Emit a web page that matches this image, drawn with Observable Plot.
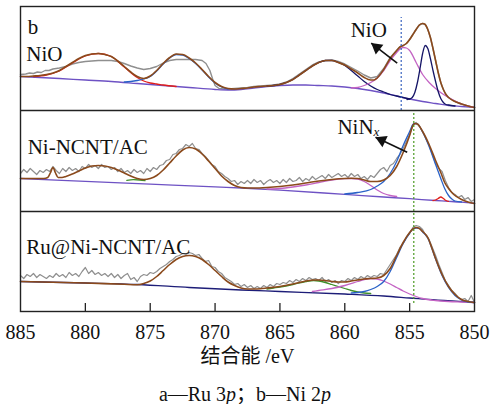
<!DOCTYPE html>
<html>
<head>
<meta charset="utf-8">
<script src="https://cdn.jsdelivr.net/npm/d3@7"></script>
<script src="https://cdn.jsdelivr.net/npm/@observablehq/plot@0.6"></script>
<style>
  body { margin: 0; background: #fff; }
  #chart { width: 490px; }
  .caption {
    width: 490px; text-align: center;
    font-family: "Liberation Serif", "Noto Sans CJK SC", serif;
    font-size: 20px; line-height: 20px; margin-top: 6px; color: #111;
  }
</style>
</head>
<body>
<div id="chart"></div>
<div class="caption">a—Ru 3<i>p</i>；b—Ni 2<i>p</i></div>
<script>
// Ni 2p XPS spectra, binding energy (eV) vs intensity (a.u.), three stacked samples.
const tickValues = [885, 880, 875, 870, 865, 860, 855, 850];
const sampleNames = ["NiO", "Ni-NCNT/AC", "Ru@Ni-NCNT/AC"];

// ---- NiO ----
const nioRaw = [[885,36],[884.6,36.5],[884.3,37.5],[884,37],[883.7,38.5],[883.4,38],[883.1,40],[882.8,40],[882.5,41.5],[882,42.5],[881.5,44],[881,46.5],[880.5,48],[880,49],[879.5,49.5],[879,50],[878.5,50],[878,50],[877.5,49],[877,47],[876.5,44.5],[876,42.5],[875.5,41],[875,42],[874.5,44],[874,47.5],[873.5,50],[873,51],[872.5,51],[872,51],[871.5,51],[871,50],[870.7,47],[870.4,40],[870.2,32],[870,25],[869.7,22],[869.3,21.5],[869,21.5],[868.5,22],[868,22.5],[867.5,23],[867,24],[866.5,24.5],[866,25],[865.5,25.5],[865,26.5],[864.5,28.5],[864,32],[863.5,36.5],[863,41],[862.5,45.5],[862,48.5],[861.5,50],[861,50.5],[860.5,49],[860,46.5],[859.5,43],[859,39.5],[858.5,35.5],[858,32.5],[857.5,34],[857,42],[856.5,53],[856,60],[855.75,63.5],[855.5,65],[855.25,67],[855,71],[854.75,76],[854.5,81],[854.25,85.5],[854,87],[853.8,86],[853.6,81],[853.4,73],[853.2,62],[853,50],[852.8,38],[852.6,28],[852.4,21],[852.2,16],[852,13],[851.5,9],[851,6.5],[850.5,4.5],[850,3]];
const nioFit = [[885,34],[884.5,34],[884,34.5],[883.5,35],[883,36],[882.5,37.5],[882,40],[881.5,44],[881,48],[880.5,52],[880,55],[879.5,56.5],[879,57],[878.5,56],[878,54],[877.5,49.5],[877,44],[876.5,38.5],[876,34],[875.5,32],[875,34.5],[874.5,40],[874,47],[873.5,53],[873,56.5],[872.5,56],[872,52.5],[871.5,47.5],[871,41],[870.5,34],[870,28],[869.5,24],[869,22],[868.5,21.5],[868,22],[867.5,22.5],[867,23.5],[866.5,24],[866,24.5],[865.5,25],[865,26],[864.5,28],[864,31],[863.5,35.5],[863,40],[862.5,44.5],[862,48],[861.5,50],[861,50],[860.5,48],[860,45.5],[859.5,41.5],[859,37.5],[858.5,33],[858,30.5],[857.75,30.5],[857.5,32.5],[857,41],[856.5,52],[856,60],[855.75,63.5],[855.5,65],[855.25,67],[855,71],[854.75,76],[854.5,81],[854.25,85.5],[854,87],[853.8,86],[853.6,81],[853.4,73],[853.2,62],[853,50],[852.8,38],[852.6,28],[852.4,21],[852.2,16],[852,13],[851.5,9],[851,6.5],[850.5,4.5],[850,3]];
const nioBackground = [[885,34],[882,32],[880,30.5],[878,29],[876,27],[874,25],[872,23],[870,21],[869,20.5],[868,21],[867,22.5],[866,24],[865,25],[864,25.5],[863,25.5],[862,25],[861,24.5],[860,23.5],[859,22],[858,20],[857,17.5],[856,14.5],[855,11.5],[854,9],[853,7],[852,5],[851,4],[850,3]];
const nioSat1 = [[884,34],[883,35.5],[882,39.5],[881,47.5],[880,54.5],[879,57],[878,54],[877,43.5],[876,33],[875.5,29.5],[875,27.5],[874.5,26.5],[874,25.5],[873,24]];
const nioMain1 = [[877,28.5],[876.5,29],[876,30],[875.5,31.5],[875,34],[874.5,39.5],[874,46.5],[873.5,52.5],[873,56],[872.5,55.5],[872,52],[871.5,47],[871,40.5],[870.5,33.5],[870,27.5],[869.5,23.5],[869,21.5]];
const nioSat3 = [[866,24.5],[865,26],[864,31],[863.5,35.5],[863,40],[862.5,44.5],[862,48],[861.5,50],[861,50],[860.5,48],[860,45],[859.5,40],[859,34.5],[858.5,29],[858,24.5],[857.5,21],[857,18.5],[856.5,16],[856,14.5],[855.5,13],[855,11.5]];
const nioMain3b = [[859.5,22.5],[859,23],[858.5,25],[858,28],[857.5,32.5],[857,40],[856.5,50],[856,58],[855.75,61.5],[855.5,63],[855.25,62.5],[855,60],[854.5,48],[854,36],[853.5,28],[853,22],[852.5,17],[852,13],[851.5,9.5],[851,6.5],[850.5,4.5],[850,3]];
const nioMain3a = [[855.2,11],[855,11.5],[854.8,13],[854.6,18],[854.4,28],[854.2,42],[854,57],[853.8,65],[853.6,62],[853.4,52],[853.2,40],[853,29],[852.8,19],[852.6,12],[852.4,8],[852.2,6],[852,5.5],[851.5,4.5]];

// ---- Ni-NCNT/AC ----
const ncntRaw = [[885,38],[884.75,42],[884.5,39],[884.25,43],[884,40],[883.75,37],[883.5,41],[883.25,39],[883,42],[882.75,40],[882.5,45],[882.25,41],[882,38],[881.75,43],[881.5,40],[881.25,44],[881,41],[880.75,43],[880.5,40],[880.25,45],[880,43],[879.75,47],[879.5,44],[879.25,46],[879,43],[878.75,47],[878.5,44],[878.25,45],[878,42],[877.75,44],[877.5,40],[877.25,43],[877,39],[876.75,41],[876.5,38],[876.25,42],[876,39],[875.75,41],[875.5,38],[875.25,43],[875,40],[874.75,44],[874.5,42],[874.25,46],[874,47],[873.75,51],[873.5,52],[873.25,57],[873,58],[872.75,62],[872.5,63],[872.25,67],[872,65],[871.75,68],[871.5,63],[871.25,62],[871,58],[870.75,55],[870.5,51],[870.25,47],[870,45],[869.75,40],[869.5,38],[869.25,35],[869,33],[868.75,30],[868.5,31],[868.25,27],[868,30],[867.75,28],[867.5,31],[867.25,28],[867,32],[866.75,29],[866.5,31],[866.25,27],[866,30],[865.75,32],[865.5,29],[865.25,31],[865,28],[864.75,32],[864.5,29],[864.25,33],[864,30],[863.75,31],[863.5,34],[863.25,30],[863,33],[862.75,31],[862.5,35],[862.25,32],[862,34],[861.75,36],[861.5,33],[861.25,37],[861,34],[860.75,36],[860.5,38],[860.25,35],[860,37],[859.75,34],[859.5,38],[859.25,35],[859,37],[858.75,33],[858.5,35],[858.25,32],[858,36],[857.75,34],[857.5,38],[857.25,42],[857,44],[856.75,40],[856.5,46],[856.25,48],[856,53],[855.75,57],[855.5,63],[855.25,70],[855,77],[854.75,86],[854.5,89],[854.25,85],[854,80],[853.75,73],[853.5,66],[853.25,57],[853,48],[852.75,43],[852.5,40],[852.25,31],[852,24],[851.75,19],[851.5,17],[851.25,14],[851,16],[850.75,12],[850.5,14],[850.25,10],[850,12]];
const ncntFit = [[885,33],[884,33],[883.2,33],[882.9,34],[882.7,38.5],[882.5,44],[882.3,38.5],[882.1,34],[881.8,34],[881.5,35],[881,37.5],[880.5,40.5],[880,43.5],[879.5,45.5],[879,46],[878.5,45.5],[878,44],[877.5,41.5],[877,38.5],[876.5,35.5],[876,33],[875.5,32],[875,33],[874.5,36],[874,41.5],[873.5,48.5],[873,55.5],[872.5,61.5],[872,64],[871.5,62.5],[871,57.5],[870.5,50.5],[870,43],[869.5,35.5],[869,30],[868.5,26],[868,24],[867.5,23.5],[867,23.5],[866,24],[865,25],[864,26.5],[863,28.5],[862,30.5],[861,32],[860,33],[859.5,33.2],[859,33],[858.5,31.5],[858,30],[857.5,30],[857,31.5],[856.5,36],[856,45],[855.5,59],[855,76],[854.75,86],[854.6,88],[854.4,87.5],[854,80],[853.5,67],[853,51],[852.6,39],[852.3,29],[852,23],[851.6,17],[851,12],[850.5,9.5],[850,8]];
const ncntBackground = [[885,33],[880,30.2],[875,27.4],[870,24.6],[868,23.5],[865,21.4],[860,17.1],[857,14.5],[855,12.8],[853,11],[852,10.2],[851,9.3],[850,8]];
const ncntNiNx = [[860,17.5],[859,19],[858,22],[857.5,25.5],[857,30],[856.5,38],[856,50],[855.5,66],[855,80],[854.75,87],[854.6,88],[854.4,87.5],[854,79.5],[853.5,65],[853,47],[852.6,33],[852.3,23],[852,16],[851.7,12],[851.5,10.5],[851,9.5]];
const ncntSat = [[866,22.5],[865,23],[864,24.5],[863,26.5],[862,29],[861,31.5],[860,32.8],[859.5,33],[859,32.5],[858.5,30],[858,26],[857.5,21.5],[857,18],[856.5,16],[856,15]];
const ncntMetal = [[853.2,10.9],[853,11.5],[852.8,13],[852.6,14.5],[852.4,13],[852.2,11],[852,10.2]];
const ncntTail = [[876.8,31.2],[876.3,31.8],[875.8,31.5],[875.4,30.8]];

// ---- Ru@Ni-NCNT/AC ----
const ruRaw = [[885,36],[884.75,33],[884.5,37],[884.25,35],[884,38],[883.75,34],[883.5,37],[883.25,35],[883,33],[882.75,36],[882.5,34],[882.25,38],[882,35],[881.75,37],[881.5,34],[881.25,39],[881,36],[880.75,38],[880.5,35],[880.25,40],[880,44],[879.75,38],[879.5,41],[879.25,37],[879,39],[878.75,36],[878.5,38],[878.25,35],[878,38],[877.75,34],[877.5,37],[877.25,33],[877,36],[876.75,38],[876.5,32],[876.25,34],[876,30],[875.75,35],[875.5,37],[875.25,36],[875,39],[874.75,38],[874.5,40],[874.25,43],[874,45],[873.75,47],[873.5,50],[873.25,52],[873,55],[872.75,56],[872.5,58],[872.25,57],[872,59],[871.75,58],[871.5,56],[871.25,57],[871,53],[870.75,50],[870.5,51],[870.25,45],[870,44],[869.75,40],[869.5,38],[869.25,34],[869,32],[868.75,30],[868.5,27],[868.25,28],[868,25],[867.75,27],[867.5,24],[867.25,26],[867,23],[866.75,25],[866.5,23],[866.25,26],[866,24],[865.75,27],[865.5,25],[865.25,28],[865,27],[864.75,29],[864.5,28],[864.25,31],[864,29],[863.75,32],[863.5,30],[863.25,33],[863,31],[862.75,34],[862.5,32],[862.25,33],[862,31],[861.75,34],[861.5,30],[861.25,32],[861,29],[860.75,31],[860.5,28],[860.25,31],[860,30],[859.75,33],[859.5,31],[859.25,34],[859,32],[858.75,35],[858.5,33],[858.25,36],[858,34],[857.75,36],[857.5,35],[857.25,38],[857,37],[856.75,42],[856.5,47],[856.25,52],[856,57],[855.75,64],[855.5,68],[855.25,74],[855,78],[854.75,84],[854.5,86],[854.25,85],[854,82],[853.75,76],[853.5,72],[853.25,64],[853,56],[852.75,47],[852.5,39],[852.25,31],[852,26],[851.75,21],[851.5,18],[851.25,14],[851,12],[850.75,13],[850.5,10],[850.25,16],[850,9]];
const ruFit = [[885,30],[880,28.5],[877,27.2],[876,26.8],[875.5,28],[875,30.5],[874.5,35],[874,41],[873.5,47],[873,52],[872.5,55],[872,56],[871.5,55],[871,52],[870.5,47],[870,41],[869.5,35],[869,29.5],[868.5,26],[868,23.5],[867.5,22.5],[867,22.5],[866.5,22.8],[866,23.5],[865,25],[864,27.5],[863,30.5],[862.4,31.5],[862,31.5],[861.5,31],[861,30],[860.5,29.5],[860,29.5],[859.5,30.5],[859,31.5],[858.5,32.5],[858,33],[857.5,33.5],[857,36],[856.5,43],[856,56],[855.5,69],[855,79],[854.75,82.5],[854.5,84],[854.25,83],[854,80],[853.6,74],[853.3,64],[853,53],[852.5,37],[852,25],[851.5,17],[851,12],[850.5,10],[850,9]];
const ruBackground = [[885,30],[880,28.5],[876,27],[872,24],[868,21.5],[865,20],[860,17.5],[857,15.5],[855,13.5],[853,11.5],[851,10],[850,9]];
const ruSatA = [[866,22.5],[865.5,23.5],[865,24.5],[864,27],[863,30],[862.4,31],[862,30.5],[861.5,29],[861,27],[860.5,25],[860,23],[859.5,21],[859,19.5],[858.5,18.5],[858,18]];
const ruSatB = [[862.5,20],[862,21],[861,23],[860,26],[859,30],[858.5,32],[858,33],[857.5,32.5],[857,30.5],[856.5,27.5],[856,24],[855.5,20.5],[855,17.5],[854.5,15],[854,13],[853,11],[852,10],[851,9.5],[850,9]];
const ruNiNx = [[859.5,18.5],[859,19],[858.5,20],[858,22],[857.5,25],[857,30],[856.5,40],[856,54],[855.5,68],[855,78.5],[854.75,82.5],[854.5,83.5],[854.25,83],[854,79.5],[853.6,73.5],[853.3,63.5],[853,52.5],[852.5,36],[852,24],[851.5,16],[851,11.5],[850.5,9.5],[850,9]];

// peak positions marked by dotted lines
const nioPeak = 855.65;
const niNxPeak = 854.68;

// vertical stacking: each sample sits on its own baseline
const base = {"NiO": 201, "Ni-NCNT/AC": 100, "Ru@Ni-NCNT/AC": 0};
const serif = "'Liberation Serif', 'Noto Sans CJK SC', serif";

const C = {
  raw: "#8f8f8f", fit: "#8b4a1c", bgPurple: "#6e52c4", bgNavy: "#1d1d78",
  red: "#e0201c", blue: "#2a62c8", navy: "#141466", pink: "#c464c4", green: "#3f8f2a"
};

function curve(data, sample, stroke, extra = {}) {
  return Plot.line(data, {
    x: d => d[0], y: d => base[sample] + d[1],
    stroke, strokeWidth: 1.3, curve: "monotone-x", ...extra
  });
}

// annotation arrows: line plus a filled triangular head at the tip
function pointer(sample, x1, y1, x2, y2, rotate, dx, dy) {
  return [
    Plot.link([0], {x1, y1: base[sample] + y1, x2, y2: base[sample] + y2, stroke: "#111", strokeWidth: 1.6}),
    Plot.dot([0], {x: x2, y: base[sample] + y2, symbol: "triangle", r: 4.6, fill: "#111", stroke: "none", rotate, dx, dy})
  ];
}

const marks = [
  // NiO
  curve(nioRaw, "NiO", C.raw, {strokeWidth: 1.4, curve: "linear"}),
  curve(nioBackground, "NiO", C.bgPurple),
  curve(nioSat1, "NiO", C.red),
  curve(nioMain1, "NiO", C.blue),
  curve(nioSat3, "NiO", C.navy),
  curve(nioMain3b, "NiO", C.pink),
  curve(nioMain3a, "NiO", C.navy),
  curve(nioFit, "NiO", C.fit, {strokeWidth: 1.6}),
  // Ni-NCNT/AC
  curve(ncntRaw, "Ni-NCNT/AC", C.raw, {strokeWidth: 1.2, curve: "linear"}),
  curve(ncntBackground, "Ni-NCNT/AC", C.bgPurple),
  curve(ncntTail, "Ni-NCNT/AC", C.green),
  curve(ncntSat, "Ni-NCNT/AC", C.pink),
  curve(ncntNiNx, "Ni-NCNT/AC", C.blue),
  curve(ncntMetal, "Ni-NCNT/AC", C.red),
  curve(ncntFit, "Ni-NCNT/AC", C.fit, {strokeWidth: 1.6}),
  // Ru@Ni-NCNT/AC
  curve(ruRaw, "Ru@Ni-NCNT/AC", C.raw, {strokeWidth: 1.2, curve: "linear"}),
  curve(ruBackground, "Ru@Ni-NCNT/AC", C.bgNavy),
  curve(ruSatA, "Ru@Ni-NCNT/AC", C.green),
  curve(ruSatB, "Ru@Ni-NCNT/AC", C.pink),
  curve(ruNiNx, "Ru@Ni-NCNT/AC", C.blue),
  curve(ruFit, "Ru@Ni-NCNT/AC", C.fit, {strokeWidth: 1.6}),

  // dotted peak markers
  Plot.ruleX([nioPeak], {y1: base["NiO"], y2: base["NiO"] + 93, stroke: "#3a64c0", strokeWidth: 1.2, strokeDasharray: "2,2"}),
  Plot.ruleX([niNxPeak], {y1: 8, y2: base["NiO"], stroke: "#4a9a22", strokeWidth: 1.2, strokeDasharray: "2,2"}),

  // panel frames
  Plot.ruleY([base["NiO"], base["Ni-NCNT/AC"]], {stroke: "#222", strokeWidth: 1.4}),
  Plot.frame({stroke: "#222", strokeWidth: 1.4}),
  Plot.ruleX(tickValues.slice(1, -1), {y1: 0, y2: 8, stroke: "#222", strokeWidth: 1.3}),
  Plot.axisX(tickValues, {tickSize: 0, tickPadding: 13, fontSize: 20, fill: "#111", label: null, tickFormat: d => String(d)}),
  Plot.text(["结合能 /eV"], {frameAnchor: "bottom", dy: 51, fontSize: 20, fill: "#111"}),

  // sample labels
  Plot.text(["b"], {x: 884.45, y: base["NiO"] + 83.5, textAnchor: "start", fontSize: 21, fill: "#111"}),
  Plot.text([sampleNames[0]], {x: 884.55, y: base["NiO"] + 56.7, textAnchor: "start", fontSize: 21, fill: "#111"}),
  Plot.text([sampleNames[1]], {x: 884.45, y: base["Ni-NCNT/AC"] + 64.7, textAnchor: "start", fontSize: 21, fill: "#111"}),
  Plot.text([sampleNames[2]], {x: 884.55, y: base["Ru@Ni-NCNT/AC"] + 64.7, textAnchor: "start", fontSize: 21, fill: "#111"}),

  // peak annotations
  Plot.text(["NiO"], {x: 858.15, y: base["NiO"] + 80, fontSize: 21, fill: "#111"}),
  ...pointer("NiO", 855.96, 47.3, 857.96, 67.3, -52, 5.5, 4.3),
  Plot.text(["NiN"], {x: 857.78, y: base["Ni-NCNT/AC"] + 84.4, textAnchor: "end", fontSize: 21, fill: "#111"}),
  Plot.text(["x"], {x: 857.78, y: base["Ni-NCNT/AC"] + 80, textAnchor: "start", fontSize: 13, fontStyle: "italic", fill: "#111"}),
  ...pointer("Ni-NCNT/AC", 855.19, 59.3, 857.63, 74.3, -65, 6.3, 3.0)
];

const chart = Plot.plot({
  width: 490,
  height: 378,
  marginLeft: 20,
  marginRight: 16,
  marginTop: 6,
  marginBottom: 67,
  x: {domain: [885, 850], axis: null},
  y: {domain: [0, 305], axis: null},
  style: {fontFamily: serif, fontSize: "20px", background: "#fff", color: "#111"},
  marks
});
document.getElementById("chart").append(chart);
</script>
</body>
</html>
